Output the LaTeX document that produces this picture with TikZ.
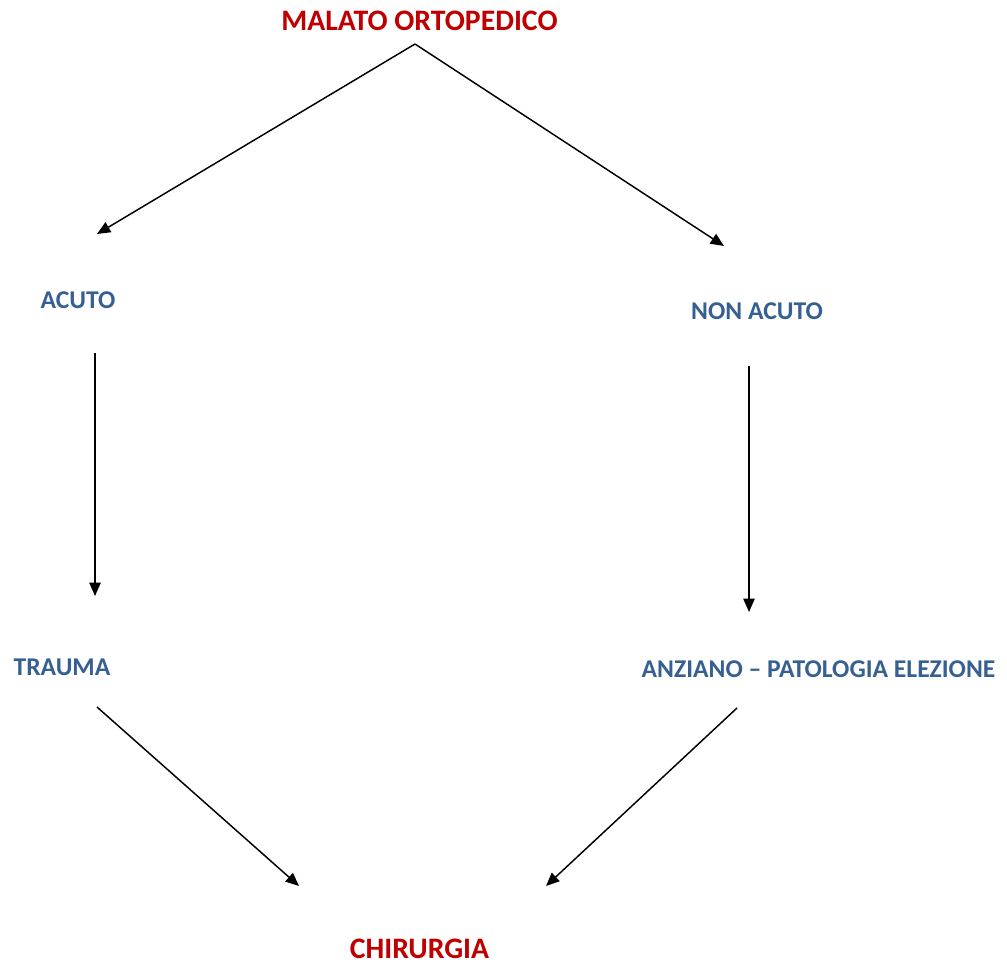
\documentclass[tikz,border=0pt]{standalone}
\usepackage{fontspec}
\setmainfont{Carlito}
\usetikzlibrary{arrows.meta}

\definecolor{titlered}{HTML}{C00000}
\definecolor{stepblue}{HTML}{366092}

\tikzset{
  redlabel/.style={text=titlered,font=\fontsize{22.3}{26}\selectfont\bfseries,inner sep=0pt,anchor=base},
  bluelabel/.style={text=stepblue,font=\fontsize{19.2}{23}\selectfont\bfseries,inner sep=0pt,anchor=base},
  flow/.style={line width=1.1pt,-{Triangle[length=10pt,width=8.5pt]}}
}

\begin{document}
\begin{tikzpicture}[x=0.75pt,y=-0.75pt]
\useasboundingbox (0,0) rectangle (1007,965);

\node[redlabel] (malato) at (419.5,30) {MALATO ORTOPEDICO};
\node[bluelabel] (acuto) at (78,308) {ACUTO};
\node[bluelabel] (nonacuto) at (757,319) {NON ACUTO};
\node[bluelabel] (trauma) at (62,675) {TRAUMA};
\node[bluelabel] (anziano) at (818.5,677) {ANZIANO \textendash\ PATOLOGIA ELEZIONE};
\node[redlabel] (chirurgia) at (419.5,958) {CHIRURGIA};

% arrow ends
\coordinate (top) at (415,44);
\coordinate (acIn) at (97,234);
\coordinate (naIn) at (724,246);
\coordinate (acOut) at (95,353);
\coordinate (trIn) at (95,596);
\coordinate (naOut) at (749,366);
\coordinate (anIn) at (749,612);
\coordinate (trOut) at (97,707);
\coordinate (chL) at (299,886);
\coordinate (anOut) at (737,708);
\coordinate (chR) at (546,886);

\draw[flow] (top) -- (acIn);
\draw[flow] (top) -- (naIn);
\draw[flow] (acOut) -- (trIn);
\draw[flow] (naOut) -- (anIn);
\draw[flow] (trOut) -- (chL);
\draw[flow] (anOut) -- (chR);
\end{tikzpicture}
\end{document}
